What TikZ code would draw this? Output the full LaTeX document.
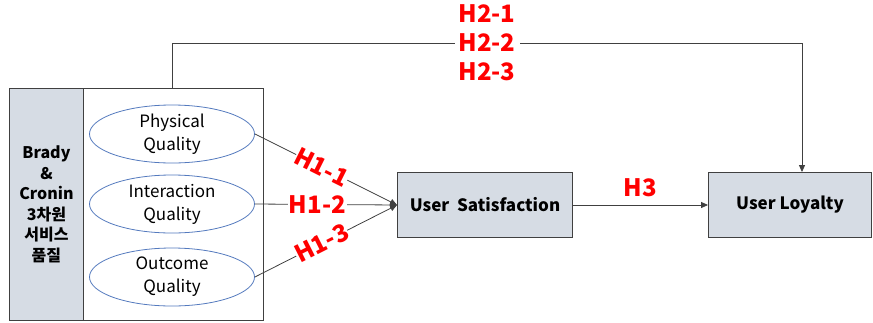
\documentclass[tikz,border=0pt]{standalone}
\usepackage{fontspec}
\setmainfont{Noto Sans CJK KR}
\usetikzlibrary{positioning,arrows.meta,shapes.geometric}
\definecolor{boxgray}{RGB}{214,220,228}
\definecolor{ringblue}{RGB}{84,122,190}
\definecolor{linegray}{RGB}{64,64,64}
\tikzset{
  panel/.style={draw=linegray,line width=0.9pt,anchor=north west},
  factor/.style={ellipse,draw=ringblue,line width=0.8pt,fill=white,
    minimum width=165pt,minimum height=58pt,align=center,inner sep=0pt,
    font=\fontsize{17}{23}\selectfont},
  varbox/.style={draw=linegray,line width=0.9pt,fill=boxgray,minimum height=65pt,
    font=\fontsize{17}{20}\selectfont\bfseries},
  hyp/.style={text=red,font=\fontsize{24}{29}\selectfont\bfseries,fill=white},
  link/.style={draw=linegray,line width=0.8pt,-{Triangle[length=7pt,width=6pt]}}
}
\begin{document}
\begin{tikzpicture}[x=1pt,y=-1pt]
\useasboundingbox (0,0) rectangle (873,322);
\node[panel,minimum width=254pt,minimum height=232pt] (frame) at (9,88) {};
\node[panel,fill=boxgray,minimum width=74pt,minimum height=232pt,align=center,
  font=\fontsize{16}{20.5}\selectfont\bfseries] (dim) at (9,88)
  {Brady\\\&\\Cronin\\3차원\\서비스\\품질};
\node[factor] (phys) at (172,134) {Physical\\Quality};
\node[factor] (inter) at (172,204) {Interaction\\Quality};
\node[factor] (outc) at (172,277) {Outcome\\Quality};
\node[varbox,minimum width=175pt] (sat) at (485,205) {User\ \ Satisfaction};
\node[varbox,minimum width=163pt] (loy) at (790,205) {User Loyalty};
\coordinate (corner) at (802,43);
\draw[link] (phys.east) -- node[hyp,sloped,pos=0.47,inner sep=0pt] {H1-1} (sat.west);
\draw[link] (inter.east) -- node[hyp,pos=0.44,inner sep=1pt] {H1-2} (sat.west);
\draw[link] (outc.east) -- node[hyp,sloped,pos=0.47,inner sep=0pt] {H1-3} (sat.west);
\draw[link] (sat) -- node[hyp,above=4pt,fill=none] {H3} (loy);
\draw[link] (phys |- frame.north) |- node[pos=0.75,hyp,align=center,inner sep=4pt] {H2-1\\H2-2\\H2-3} (corner) -- (corner |- loy.north);
\end{tikzpicture}
\end{document}
